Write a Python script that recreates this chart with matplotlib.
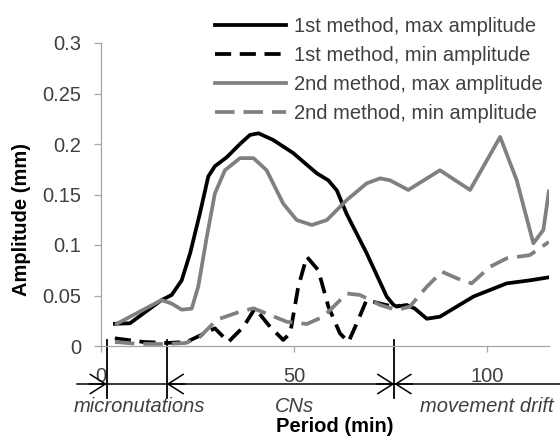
import matplotlib
matplotlib.use("Agg")
import matplotlib.pyplot as plt

plt.rcParams['font.family'] = ['Liberation Sans', 'DejaVu Sans']

# values
x_max1 = [3.6, 7.5, 15.7, 18.3, 20.9, 23.1, 25.6, 27.8, 29.5, 32.6, 36.0, 38.6, 40.8, 44.6,
          49.8, 55.9, 58.9, 61.1, 63.6, 68.8, 74.0, 75.7, 76.6, 79.2, 81.3, 84.4, 87.8,
          96.5, 105.1, 111.1, 116.0]
y_max1 = [0.022, 0.0225, 0.0455, 0.0505, 0.065, 0.092, 0.131, 0.168, 0.178, 0.187, 0.2,
          0.209, 0.2106, 0.204, 0.191, 0.171, 0.164, 0.154, 0.131, 0.092, 0.049, 0.041,
          0.039, 0.0406, 0.037, 0.027, 0.029, 0.049, 0.062, 0.065, 0.068]

x_min1 = [3.6, 11.0, 17.0, 22.2, 29.5, 33.0, 36.9, 39.9, 43.8, 47.2, 49.0, 51.1, 53.3,
          56.3, 58.9, 61.9, 64.1, 66.2, 68.8, 72.3, 75.7, 77.5]
y_min1 = [0.0076, 0.004, 0.003, 0.004, 0.0175, 0.004, 0.019, 0.0373, 0.019, 0.006, 0.0125,
          0.0587, 0.0884, 0.075, 0.039, 0.0125, 0.004, 0.022, 0.0455, 0.042, 0.039, 0.04]

x_max2 = [4.1, 15.7, 18.3, 20.9, 23.5, 25.2, 27.4, 29.5, 32.1, 36.0, 39.5, 42.9, 47.2,
          50.7, 54.6, 58.5, 63.7, 68.8, 72.3, 74.9, 79.6, 87.8, 95.6, 103.4, 107.7, 112.0,
          114.6, 116.0]
y_max2 = [0.022, 0.0455, 0.042, 0.036, 0.037, 0.059, 0.108, 0.151, 0.174, 0.186, 0.186,
          0.174, 0.141, 0.1247, 0.1198, 0.1247, 0.1446, 0.161, 0.166, 0.164, 0.1545,
          0.174, 0.1545, 0.207, 0.164, 0.1017, 0.115, 0.153]

x_min2 = [3.6, 10.0, 17.0, 22.0, 25.6, 30.0, 36.0, 39.5, 43.8, 48.1, 53.3, 57.6, 63.7,
          67.1, 72.3, 76.6, 80.0, 84.4, 88.3, 92.2, 96.0, 100.8, 105.1, 111.1, 116.0]
y_min2 = [0.004, 0.002, 0.002, 0.003, 0.009, 0.026, 0.034, 0.0373, 0.0307, 0.024, 0.0218,
          0.029, 0.052, 0.0505, 0.0406, 0.0356, 0.039, 0.0587, 0.0736, 0.067, 0.062,
          0.0785, 0.0868, 0.090, 0.103]

labels = ["1st method, max amplitude", "1st method, min amplitude",
          "2nd method, max amplitude", "2nd method, min amplitude"]
x_ticks = [0, 50, 100]
y_ticks = [0, 0.05, 0.1, 0.15, 0.2, 0.25, 0.3]
y_tick_labels = ["0", "0.05", "0.1", "0.15", "0.2", "0.25", "0.3"]
bounds = [1.5, 17, 76]
phases = ["micronutations", "CNs", "movement drift"]
phase_x = [10, 50, 100]

W, H = 560, 446
fig = plt.figure(figsize=(W / 100, H / 100), dpi=100)
ax = fig.add_axes([101 / W, 1 - 346 / H, 447.8 / W, 303 / H])

grey = '#808080'
ax.plot(x_max1, y_max1, color='black', lw=2.7, label=labels[0])
ax.plot(x_min1, y_min1, color='black', lw=2.7, dashes=(4.3, 2.3), label=labels[1])
ax.plot(x_max2, y_max2, color=grey, lw=2.7, label=labels[2])
ax.plot(x_min2, y_min2, color=grey, lw=2.7, dashes=(5.2, 2.4), label=labels[3])

ax.set_xlim(0, 116)
ax.set_ylim(0, 0.3)
ax.set_xticks(x_ticks)
ax.set_yticks(y_ticks)
ax.set_yticklabels(y_tick_labels)
for s in ['top', 'right']:
    ax.spines[s].set_visible(False)
for s in ['left', 'bottom']:
    ax.spines[s].set_color('#a6a6a6')
    ax.spines[s].set_linewidth(0.9)
ax.tick_params(axis='x', length=4, width=0.9, color='#a6a6a6', pad=11,
               labelsize=14.5, labelcolor='#404040')
ax.tick_params(axis='y', length=5, width=0.9, color='#a6a6a6', pad=9,
               labelsize=14.5, labelcolor='#404040')

leg = ax.legend(loc='upper left', bbox_to_anchor=(0.255, 1.085), frameon=False,
                fontsize=14.5, handlelength=3.5, handletextpad=0.4, labelspacing=0.5,
                borderpad=0, borderaxespad=0)
for t in leg.get_texts():
    t.set_color('#404040')

# phase boundaries and arrows under the axis
trans = ax.get_xaxis_transform()
y_arrow = (346 - 384) / 303
ax.plot([-6.2, 119], [y_arrow, y_arrow], color='black', lw=1.1, transform=trans, clip_on=False)
for b in bounds:
    ax.plot([b, b], [(346 - 340) / 303, (346 - 398) / 303], color='black', lw=1.3,
            transform=trans, clip_on=False)
arrow_style = dict(arrowstyle='->,head_length=1.1,head_width=0.7', color='black', lw=1.1,
                   shrinkA=0, shrinkB=0, mutation_scale=10)
for b, sides in zip(bounds, [[-1], [1], [-1, 1]]):
    for side in sides:
        ax.annotate('', xy=(b, y_arrow), xycoords=trans,
                    xytext=(side * 18, 0), textcoords='offset pixels',
                    arrowprops=arrow_style, annotation_clip=False)

for px, name in zip(phase_x, phases):
    ax.text(px, (346 - 407) / 303, name, transform=trans, ha='center', va='center',
            fontsize=14.5, style='italic', color='#404040', clip_on=False)

fig.text(335 / W, 1 - 426 / H, "Period (min)", ha='center', va='center',
         fontsize=14.5, fontweight='bold')
fig.text(22 / W, 1 - 219 / H, "Amplitude (mm)", ha='center', va='center',
         fontsize=14.5, fontweight='bold', rotation=90)

fig.savefig('out.png', dpi=100)
